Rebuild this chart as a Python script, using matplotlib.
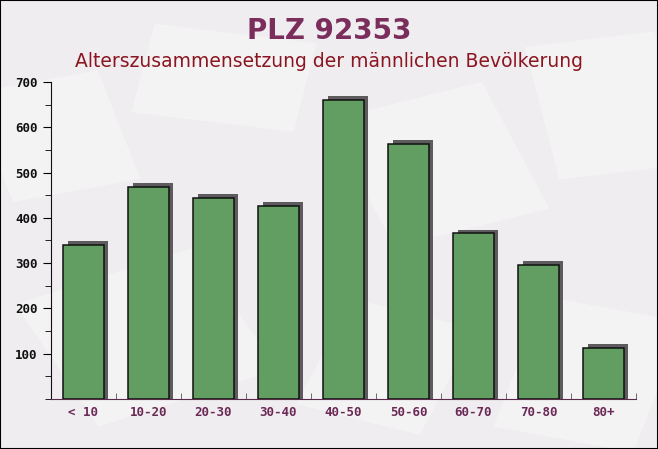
import matplotlib
matplotlib.use("Agg")
import matplotlib.pyplot as plt
from matplotlib.patches import Rectangle
from matplotlib.ticker import MultipleLocator

# data
age_groups = ['< 10', '10-20', '20-30', '30-40', '40-50', '50-60', '60-70', '70-80', '80+']
male_counts = [340, 468, 444, 426, 660, 563, 366, 296, 113]
y_ticks = [100, 200, 300, 400, 500, 600, 700]

TITLE = "PLZ 92353"
SUBTITLE = "Alterszusammensetzung der männlichen Bevölkerung"

fig = plt.figure(figsize=(6.58, 4.49), dpi=100)
fig.patch.set_facecolor('#efedef')

# faint envelope shapes in the background
for (x, y, w, h, a) in [(0.02, 0.55, 0.2, 0.25, 15), (0.2, 0.75, 0.25, 0.2, -10),
                        (0.6, 0.45, 0.25, 0.3, 20), (0.75, 0.05, 0.22, 0.3, -15),
                        (0.15, 0.05, 0.3, 0.3, 25), (0.45, 0.1, 0.2, 0.25, -20),
                        (0.85, 0.6, 0.2, 0.3, 10)]:
    fig.patches.append(Rectangle((x, y), w, h, angle=a, transform=fig.transFigure,
                                 facecolor='white', alpha=0.35, edgecolor='none', zorder=-5))
fig.patches.append(Rectangle((0, 0), 1, 1, transform=fig.transFigure, fill=False,
                             edgecolor='black', linewidth=1.5, zorder=5))

ax = fig.add_axes([0.0775, 0.1114, 0.889, 0.706])
ax.set_facecolor('none')
ax.set_zorder(1)

x = list(range(len(age_groups)))
# shadow bars
ax.bar([i + 0.065 for i in x], [v + 8 for v in male_counts], width=0.62,
       color='#5e5b5e', zorder=2)
ax.bar(x, male_counts, width=0.62, color='#629e62', edgecolor='#111111',
       linewidth=1.1, zorder=3)

ax.set_xlim(-0.5, 8.45)
ax.set_ylim(0, 700)
ax.set_yticks(y_ticks)
ax.yaxis.set_minor_locator(MultipleLocator(50))
ax.set_xticks(x)
ax.set_xticklabels(age_groups)
ax.set_xticks([i + 0.35 for i in x] + [i + 0.5 for i in x], minor=True)

for s in ['top', 'right']:
    ax.spines[s].set_visible(False)
ax.spines['left'].set_color('#111111')
ax.spines['bottom'].set_color('#5a2a4a')

ax.tick_params(axis='y', which='major', length=6, labelsize=9, labelcolor='#111111')
ax.tick_params(axis='y', which='minor', length=4)
ax.tick_params(axis='x', which='major', length=0, pad=5, labelsize=9, labelcolor='#6a2a55')
ax.tick_params(axis='x', which='minor', length=4, direction='in', color='#555555')
for lab in ax.get_yticklabels() + ax.get_xticklabels():
    lab.set_family('DejaVu Sans Mono')
    lab.set_fontweight('bold')

fig.text(0.5, 0.932, TITLE, ha='center', va='center', fontsize=20,
         fontweight='bold', color='#7b2d5b')
fig.text(0.5, 0.862, SUBTITLE, ha='center', va='center', fontsize=13.5,
         color='#8b1520')

fig.savefig('out.png', dpi=100, facecolor=fig.get_facecolor())
